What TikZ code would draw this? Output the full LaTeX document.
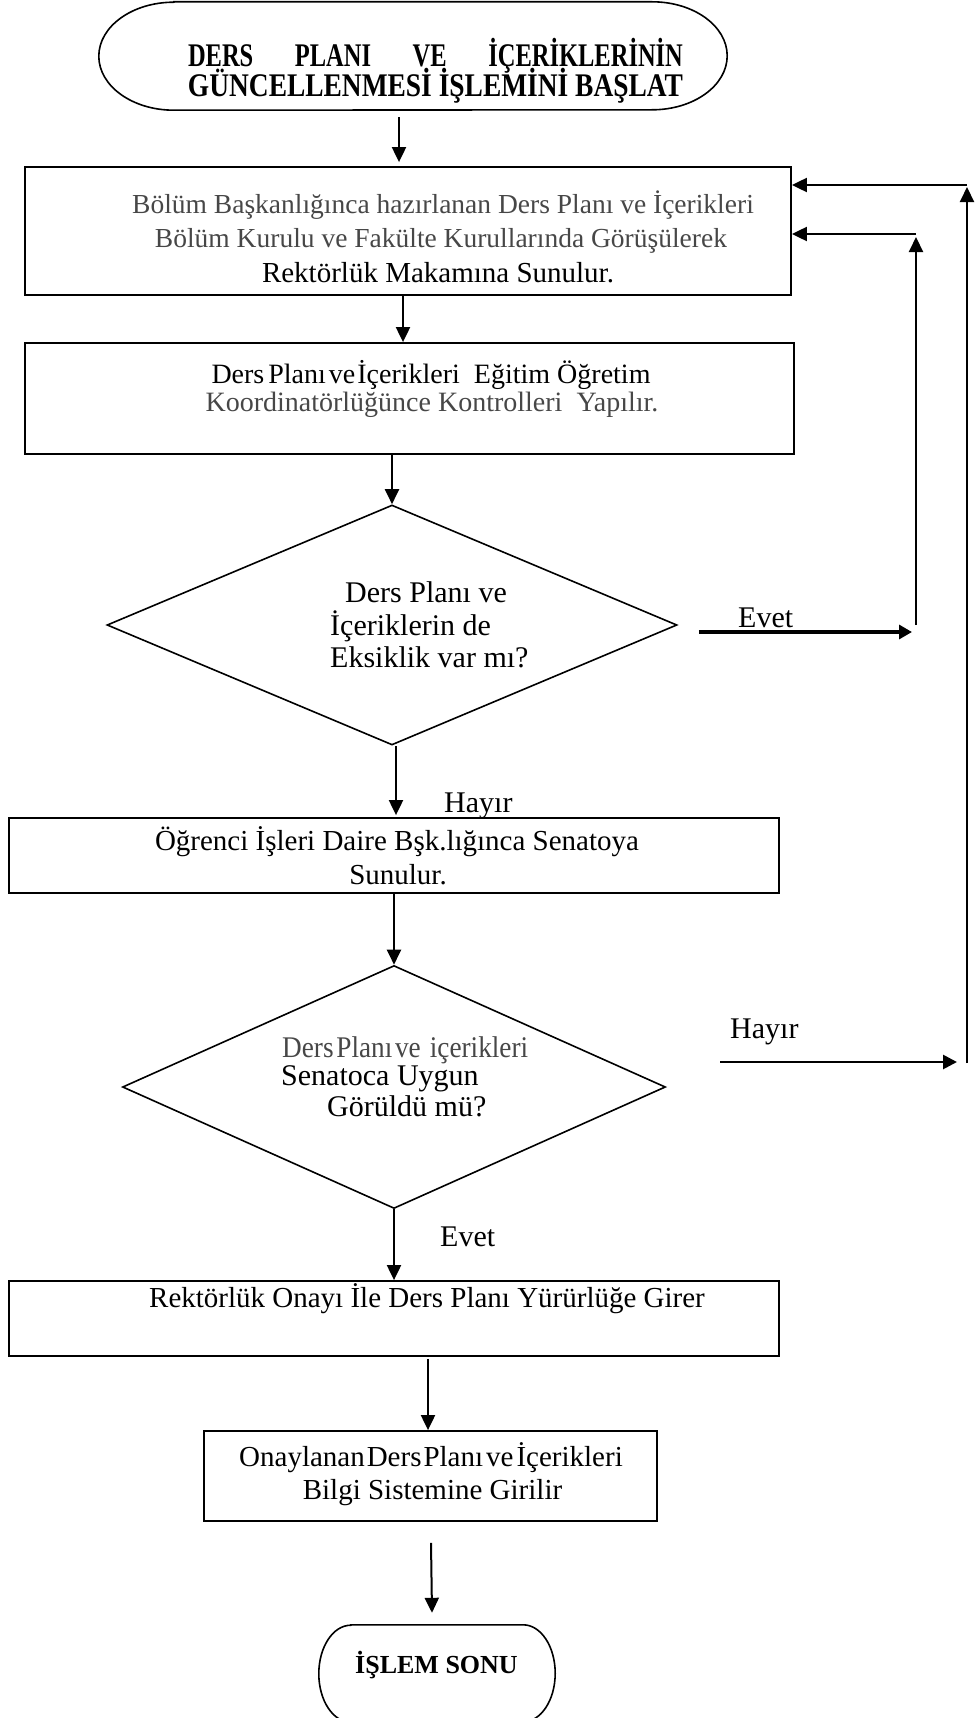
\documentclass[tikz,border=0pt]{standalone}
\usepackage{graphicx}
\usepackage{fontspec}
\setmainfont{Liberation Serif}
\usetikzlibrary{arrows.meta,shapes.geometric}

\definecolor{softink}{gray}{0.28}

\tikzset{
  procbox/.style={draw, rectangle, line width=1.8pt, inner sep=0pt},
  decision/.style={draw, diamond, line width=1.6pt, inner sep=0pt},
  termshape/.style={rectangle, inner sep=0pt},
  termline/.style={line width=1.6pt},
  arr/.style={line width=2pt, -{Triangle[length=15pt,width=14pt]}},
  heavyarr/.style={line width=3.2pt, -{Triangle[length=13pt,width=14pt]}},
  line/.style={inner sep=0pt, anchor=base},
  lline/.style={inner sep=0pt, anchor=base west},
  fsmall/.style={font=\fontsize{27.5}{32}\selectfont},
  fbox/.style={font=\fontsize{28}{33}\selectfont},
  fmid/.style={font=\fontsize{29}{34}\selectfont},
  flabel/.style={font=\fontsize{30}{36}\selectfont},
  ftitle/.style={font=\fontsize{33}{36}\selectfont\bfseries},
  fend/.style={font=\fontsize{26}{30}\selectfont\bfseries},
}

\begin{document}
\begin{tikzpicture}[x=1pt,y=1pt]
\useasboundingbox (0,0) rectangle (977,-1718);

% ---------- start terminal ----------
\node[termshape, minimum width=628pt, minimum height=108pt] (start) at (413,-56) {};
\draw[termline] ([xshift=75pt]start.north west) -- ([xshift=-75pt]start.north east)
  arc[start angle=90, end angle=-90, x radius=75, y radius=54]
  -- ([xshift=75pt]start.south west)
  arc[start angle=270, end angle=90, x radius=75, y radius=54] -- cycle;
\node[line, ftitle] (title1) at (435.5,-67)
  {\resizebox{495pt}{\height}{\makebox[667pt][s]{DERS\hfill PLANI\hfill VE\hfill İÇERİKLERİNİN}}};
\node[line, ftitle] (title2) at (435.5,-97)
  {\resizebox{495pt}{\height}{GÜNCELLENMESİ İŞLEMİNİ BAŞLAT}};

% ---------- process boxes ----------
\node[procbox, minimum width=766pt, minimum height=128pt] (box1) at (408,-231) {};
\node[line, fsmall, text=softink] (b1l1) at (443,-213) {Bölüm Başkanlığınca hazırlanan Ders Planı ve İçerikleri};
\node[line, fsmall, text=softink] (b1l2) at (441,-247) {Bölüm Kurulu ve Fakülte Kurullarında Görüşülerek};
\node[line, fmid] (b1l3) at (438,-282) {Rektörlük Makamına Sunulur.};

\node[procbox, minimum width=769pt, minimum height=111pt] (box2) at (409.5,-398.5) {};
\node[line, fbox] (b2l1) at (431,-383)
  {Ders\hspace{4pt}Planı\hspace{3pt}ve\hspace{2pt}İçerikleri\hspace{14pt}Eğitim Öğretim};
\node[line, fbox, text=softink] (b2l2) at (432,-411)
  {Koordinatörlüğünce Kontrolleri\hspace{14pt}Yapılır.};

% ---------- first decision ----------
\node[decision, minimum width=570pt, minimum height=240pt] (d1) at (392,-625) {};
\node[lline, flabel] (d1l1) at (345,-602) {Ders Planı ve};
\node[lline, flabel] (d1l2) at (330,-635) {İçeriklerin de};
\node[lline, flabel] (d1l3) at (330,-667) {Eksiklik var mı?};

\node[procbox, minimum width=770pt, minimum height=75pt] (box3) at (394,-855.5) {};
\node[line, fmid] (b3l1) at (397,-850) {Öğrenci İşleri Daire Bşk.lığınca Senatoya};
\node[line, fmid] (b3l2) at (398,-884) {Sunulur.};

% ---------- second decision ----------
\node[decision, minimum width=543pt, minimum height=243pt] (d2) at (394,-1087) {};
\node[lline, flabel, text=softink] (d2l1) at (282,-1057)
  {\resizebox{246pt}{\height}{Ders\hspace{3pt}Planı\hspace{3pt}ve\hspace{10pt}içerikleri}};
\node[lline, flabel] (d2l2) at (281,-1085) {Senatoca Uygun};
\node[lline, flabel] (d2l3) at (327,-1116) {Görüldü mü?};

\node[procbox, minimum width=770pt, minimum height=75pt] (box4) at (394,-1318.5) {};
\node[line, fmid] (b4l1) at (427,-1307) {Rektörlük Onayı İle Ders Planı Yürürlüğe Girer};

\node[procbox, minimum width=453pt, minimum height=90pt] (box5) at (430.5,-1476) {};
\node[line, fmid] (b5l1) at (431,-1466)
  {Onaylanan\hspace{2pt}Ders\hspace{2pt}Planı\hspace{3pt}ve\hspace{3pt}İçerikleri};
\node[line, fmid] (b5l2) at (432.5,-1499) {Bilgi Sistemine Girilir};

% ---------- end terminal ----------
\node[termshape, minimum width=236pt, minimum height=97pt] (stop) at (437,-1673.5) {};
\draw[termline] ([xshift=32pt]stop.north west) -- ([xshift=-32pt]stop.north east)
  arc[start angle=90, end angle=-90, x radius=32, y radius=48.5]
  -- ([xshift=32pt]stop.south west)
  arc[start angle=270, end angle=90, x radius=32, y radius=48.5] -- cycle;
\node[line, fend] (endtxt) at (436.5,-1673) {İŞLEM SONU};

% ---------- branch labels ----------
\node[lline, flabel] (yes1) at (738,-627) {Evet};
\node[lline, flabel] (no1) at (444,-812) {Hayır};
\node[lline, flabel] (no2) at (730,-1038) {Hayır};
\node[lline, flabel] (yes2) at (440,-1246) {Evet};

% ---------- main flow ----------
\draw[arr] ([xshift=-14pt,yshift=-7pt]start.south) -- ([xshift=-9pt,yshift=4pt]box1.north);
\draw[arr] ([xshift=-5pt]box1.south) -- ([xshift=-6.5pt]box2.north);
\draw[arr] ([xshift=-17.5pt]box2.south) -- (d1.north);
\draw[arr] ([xshift=4pt]d1.south) -- ([xshift=2pt,yshift=2pt]box3.north);
\draw[arr] (box3.south) -- (d2.north);
\draw[arr] (d2.south) -- (box4.north);
\draw[arr] ([xshift=34pt,yshift=-2pt]box4.south) -- ([xshift=-2.5pt]box5.north);
\draw[arr] ([xshift=0.5pt,yshift=-21pt]box5.south) -- ([xshift=-5pt,yshift=12pt]stop.north);

% ---------- return loops ----------
\coordinate (evS) at ([xshift=21pt,yshift=-7pt]d1.east);
\coordinate (evE) at (912,-632);
\coordinate (inB) at (916,-625);
\coordinate (inT) at (916,-234);
\draw[heavyarr] (evS) -- (evE);
\draw[arr] (inB) -- ([yshift=-3pt]inT);
\draw[arr] (inT) -- (box1.east |- inT);

\coordinate (hyS) at ([xshift=54pt,yshift=25pt]d2.east);
\coordinate (hyE) at (957,-1062);
\coordinate (outB) at (967,-1063);
\coordinate (outT) at (967,-185);
\draw[line width=2.7pt, -{Triangle[length=14pt,width=14pt]}] (hyS) -- (hyE);
\draw[arr] (outB) -- ([yshift=-2pt]outT);
\draw[arr] (outT) -- (box1.east |- outT);
\end{tikzpicture}
\end{document}
